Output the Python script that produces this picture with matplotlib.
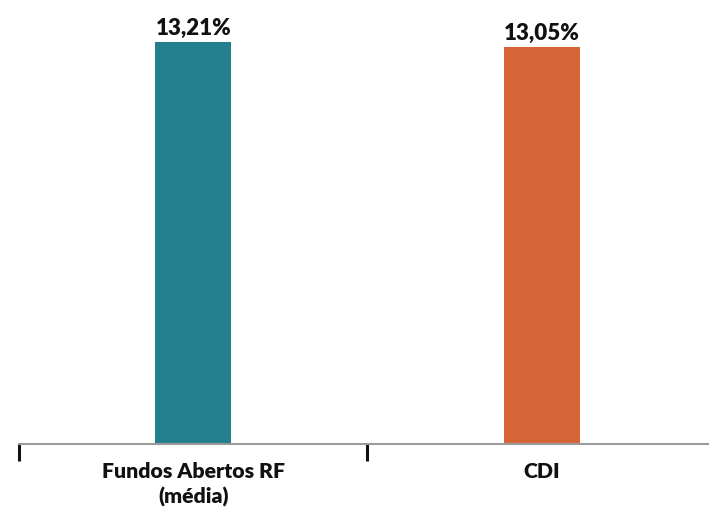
import matplotlib
matplotlib.use("Agg")
import matplotlib.pyplot as plt

categories = ["Fundos Abertos RF\n(média)", "CDI"]
values = [13.21, 13.05]
value_labels = ["13,21%", "13,05%"]
colors = ["#237F8C", "#D56536"]

plt.rcParams['font.family'] = ['Lato', 'DejaVu Sans']

fig = plt.figure(figsize=(7.09, 5.07), dpi=100)
ax = fig.add_axes([19/709, (507-444)/507, 1-19/709, 444/507])

x = list(range(len(categories)))
ax.bar(x, values, width=0.218, color=colors, zorder=2)
for xi, v, lab in zip(x, values, value_labels):
    ax.annotate(lab, (xi, v), xytext=(0, 2), textcoords="offset points",
                ha="center", va="bottom", fontsize=16, fontweight="heavy", color="#111111")

ax.set_xlim(-0.5, 1.48)
ax.set_ylim(0, 14.59)
ax.set_yticks([])
ax.set_xticks([-0.5, 0.5], minor=False)
ax.set_xticklabels(["", ""])
ax.tick_params(axis="x", which="major", length=12, width=2.2, color="#111111", direction="out")
ax.set_xticks(x, minor=True)
ax.set_xticklabels(categories, minor=True, fontsize=15.3, fontweight="heavy", color="#111111",
                   linespacing=1.35)
ax.tick_params(axis="x", which="minor", length=0, pad=13)
for s in ["top", "right", "left"]:
    ax.spines[s].set_visible(False)
ax.spines["bottom"].set_color("#9a9a9a")
ax.spines["bottom"].set_linewidth(1.5)
ax.set_facecolor("none")

fig.savefig("out.png", dpi=100)
